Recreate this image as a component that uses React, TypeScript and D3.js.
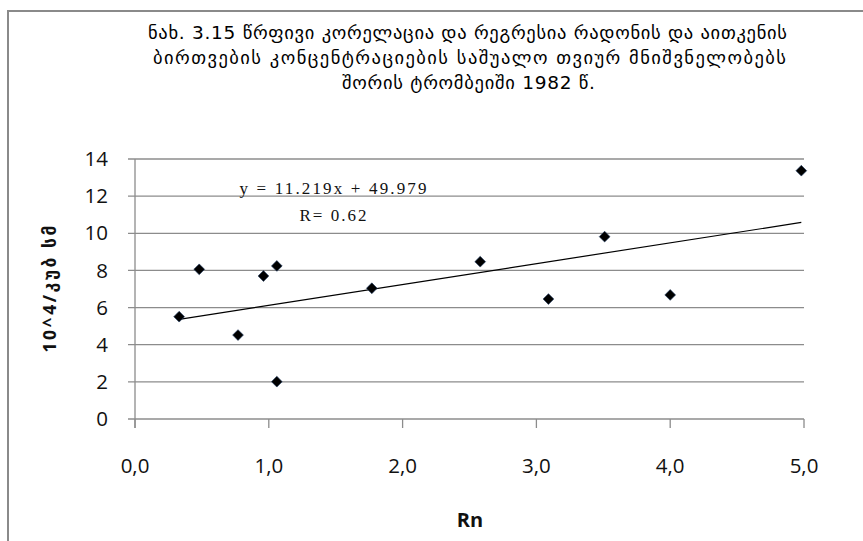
import React from 'react';
import * as d3 from 'd3';

// Monthly mean concentrations: radon (x) vs. ion nuclei (y), Tbilisi 1982
const rnValues = [0.33, 0.48, 0.77, 0.96, 1.06, 1.06, 1.77, 2.58, 3.09, 3.51, 4.0, 4.98];
const nucleiValues = [5.51, 8.06, 4.52, 7.7, 8.24, 2.01, 7.04, 8.47, 6.46, 9.82, 6.68, 13.37];

const xTicks = [0, 1, 2, 3, 4, 5];
const yTicks = [0, 2, 4, 6, 8, 10, 12, 14];

const titleLines = [
  'ნახ. 3.15  წრფივი კორელაცია და რეგრესია რადონის და აითკენის',
  'ბირთვების კონცენტრაციების საშუალო თვიურ მნიშვნელობებს',
  'შორის ტრომბეიში 1982 წ.',
];
const xAxisTitle = 'Rn';
const yAxisTitle = '10^4/კუბ სმ';

// Regression written in units ten times those of the y axis
const trendSlope = 11.219;
const trendIntercept = 49.979;
const trendUnit = 10;
const trendR = 0.62;

const W = 863;
const H = 541;
const plot = { left: 135, right: 804, top: 159, bottom: 419 };
const gridColor = '#8c8c8c';

export default function App() {
  const x = d3.scaleLinear().domain([0, 5]).range([plot.left, plot.right]);
  const y = d3.scaleLinear().domain([0, 14]).range([plot.bottom, plot.top]);

  const fmtX = (v: number) => d3.format('.1f')(v).replace('.', ',');

  const points = rnValues.map((v, i) => ({ x: v, y: nucleiValues[i] }));
  const [xMin, xMax] = d3.extent(rnValues) as [number, number];
  const trendY = (v: number) => (trendSlope * v + trendIntercept) / trendUnit;
  const trendPath = d3.line<number>()
    .x((v) => x(v))
    .y((v) => y(trendY(v)))([xMin, xMax]);

  const diamond = d3.symbol().type(d3.symbolSquare).size(58)();

  const titleWidths = [639, 633, 253];
  const titleCenters = [467.5, 469.5, 468.5];
  const titleBaselines = [39, 64, 89];

  return (
    <svg
      width={W}
      height={H}
      style={{ position: 'absolute', left: 0, top: 0, background: '#fff' }}
    >
      <rect x={0} y={0} width={W} height={H} fill="#fff" />
      {/* chart frame */}
      <rect x={8} y={11} width={W + 20} height={H + 20} fill="none" stroke="#8a8a8a" strokeWidth={2} />

      {/* title */}
      <g fontFamily="'DejaVu Sans', sans-serif" fontSize={18.5} fill="#000" textAnchor="middle">
        {titleLines.map((t, i) => (
          <text
            key={i}
            x={titleCenters[i]}
            y={titleBaselines[i]}
            textLength={titleWidths[i]}
            lengthAdjust="spacing"
          >
            {t}
          </text>
        ))}
      </g>

      {/* horizontal gridlines */}
      {yTicks.map((t) => (
        <line
          key={'g' + t}
          x1={plot.left - 7}
          x2={plot.right}
          y1={y(t)}
          y2={y(t)}
          stroke={gridColor}
          strokeWidth={1.3}
        />
      ))}
      {/* y axis */}
      <line x1={plot.left} x2={plot.left} y1={plot.top} y2={plot.bottom + 9} stroke={gridColor} strokeWidth={1.3} />
      {/* x ticks */}
      {xTicks.map((t) => (
        <line key={'xt' + t} x1={x(t)} x2={x(t)} y1={plot.bottom} y2={plot.bottom + 9} stroke={gridColor} strokeWidth={1.3} />
      ))}

      {/* tick labels */}
      <g fontFamily="'Open Sans', sans-serif" fontSize={20.5} fill="#111">
        {yTicks.map((t) => (
          <text key={'yl' + t} x={108} y={y(t)} dy="0.35em" textAnchor="end">
            {t}
          </text>
        ))}
        {xTicks.map((t) => (
          <text key={'xl' + t} x={x(t)} y={473} textAnchor="middle">
            {fmtX(t)}
          </text>
        ))}
      </g>

      {/* axis titles */}
      <text
        x={470}
        y={527}
        textAnchor="middle"
        fontFamily="'Open Sans', sans-serif"
        fontWeight="bold"
        fontSize={20}
        fill="#111"
      >
        {xAxisTitle}
      </text>
      <text
        transform={`translate(56, ${(plot.top + plot.bottom) / 2}) rotate(-90)`}
        textAnchor="middle"
        fontFamily="'Open Sans', 'DejaVu Sans', sans-serif"
        fontWeight="bold"
        fontSize={17.5}
        fill="#111"
        textLength={127}
        lengthAdjust="spacing"
      >
        {yAxisTitle}
      </text>

      {/* regression line */}
      <path d={trendPath ?? ''} fill="none" stroke="#000" strokeWidth={1.2} />

      {/* data points */}
      {points.map((p, i) => (
        <path
          key={'p' + i}
          d={diamond ?? ''}
          transform={`translate(${x(p.x)}, ${y(p.y)}) rotate(45)`}
          fill="#000"
          stroke="#1f3a60"
          strokeWidth={0.6}
        />
      ))}

      {/* regression equation */}
      <g fontFamily="'Liberation Serif', 'Times New Roman', serif" fontSize={17} fill="#111" textAnchor="middle">
        <text x={333} y={194} textLength={187} lengthAdjust="spacing">
          {`y = ${trendSlope}x + ${trendIntercept}`}
        </text>
        <text x={333} y={221} textLength={67} lengthAdjust="spacing">
          {`R= ${trendR}`}
        </text>
      </g>
    </svg>
  );
}
